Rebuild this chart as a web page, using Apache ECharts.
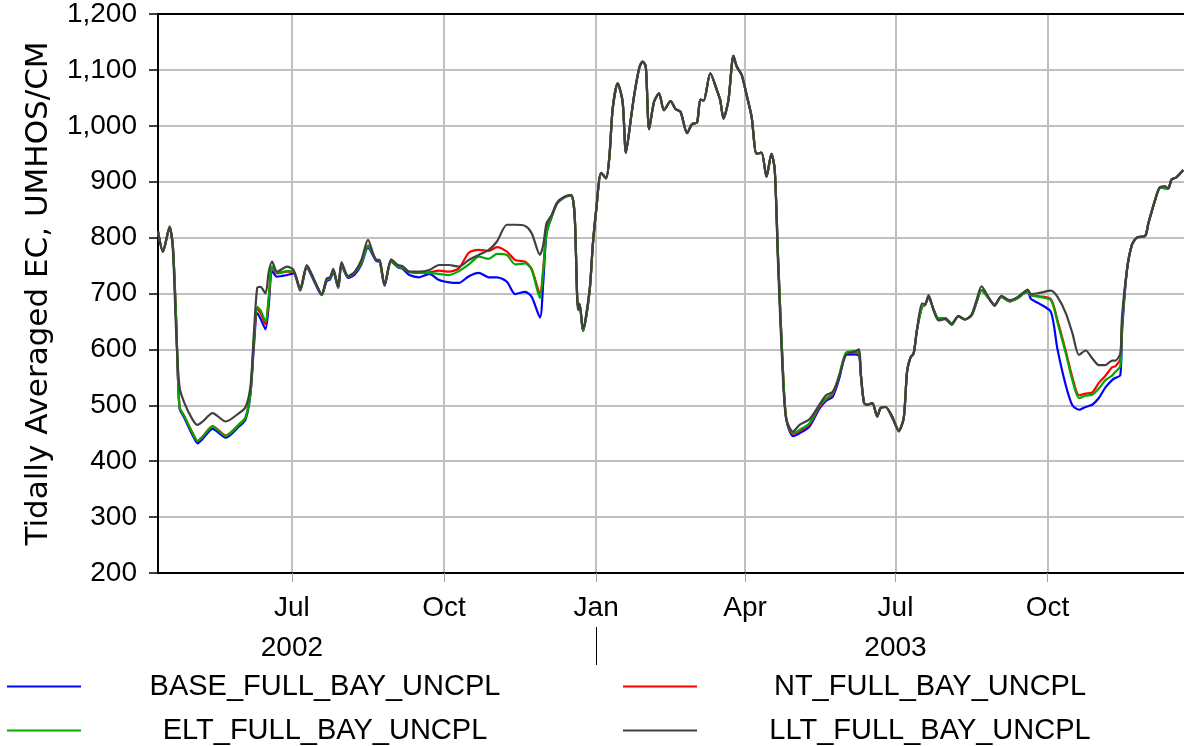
<!DOCTYPE html>
<html>
<head>
<meta charset="utf-8">
<script src="https://cdn.jsdelivr.net/npm/echarts@6/dist/echarts.min.js"></script>
<style>
  html, body { margin: 0; padding: 0; background: #fff; }
  #chart { width: 1184px; height: 746px; }
</style>
</head>
<body>
<div id="chart"></div>
<script>
// Sample dates (tidally averaged EC, daily model output, sampled at turning points)
const dates = [
  '2002-04-11','2002-04-14','2002-04-18','2002-04-20','2002-04-22','2002-04-24','2002-04-27','2002-05-02','2002-05-05','2002-05-08',
  '2002-05-14','2002-05-22','2002-05-30','2002-06-03','2002-06-06','2002-06-08','2002-06-10','2002-06-12','2002-06-15','2002-06-17',
  '2002-06-19','2002-06-22','2002-06-28','2002-07-02','2002-07-06','2002-07-10','2002-07-15','2002-07-19','2002-07-22','2002-07-24',
  '2002-07-26','2002-07-29','2002-07-31','2002-08-04','2002-08-08','2002-08-12','2002-08-16','2002-08-21','2002-08-23','2002-08-26',
  '2002-08-30','2002-09-03','2002-09-06','2002-09-10','2002-09-16','2002-09-22','2002-09-28','2002-10-04','2002-10-10','2002-10-16',
  '2002-10-22','2002-10-28','2002-11-02','2002-11-08','2002-11-13','2002-11-19','2002-11-23','2002-11-28','2002-11-30','2002-12-02',
  '2002-12-05','2002-12-08','2002-12-10','2002-12-14','2002-12-17','2002-12-19','2002-12-21','2002-12-22','2002-12-24','2002-12-28',
  '2002-12-30','2003-01-01','2003-01-04','2003-01-07','2003-01-09','2003-01-11','2003-01-14','2003-01-17','2003-01-19','2003-01-22',
  '2003-01-24','2003-01-27','2003-01-29','2003-01-31','2003-02-02','2003-02-05','2003-02-08','2003-02-11','2003-02-15','2003-02-18',
  '2003-02-21','2003-02-25','2003-02-28','2003-03-03','2003-03-05','2003-03-07','2003-03-11','2003-03-15','2003-03-17','2003-03-19',
  '2003-03-22','2003-03-25','2003-03-27','2003-03-30','2003-04-02','2003-04-05','2003-04-08','2003-04-11','2003-04-14','2003-04-17',
  '2003-04-19','2003-04-21','2003-04-24','2003-04-26','2003-04-30','2003-05-04','2003-05-10','2003-05-16','2003-05-20','2003-05-24',
  '2003-05-28','2003-06-01','2003-06-06','2003-06-09','2003-06-10','2003-06-12','2003-06-14','2003-06-17','2003-06-20','2003-06-22',
  '2003-06-25','2003-06-29','2003-07-03','2003-07-06','2003-07-08','2003-07-10','2003-07-12','2003-07-14','2003-07-17','2003-07-19',
  '2003-07-21','2003-07-24','2003-07-27','2003-07-31','2003-08-04','2003-08-08','2003-08-12','2003-08-16','2003-08-19','2003-08-22',
  '2003-08-25','2003-08-30','2003-09-03','2003-09-08','2003-09-13','2003-09-16','2003-09-19','2003-09-21','2003-09-26','2003-10-03',
  '2003-10-07','2003-10-12','2003-10-16','2003-10-20','2003-10-24','2003-10-28','2003-11-01','2003-11-05','2003-11-09','2003-11-11',
  '2003-11-14','2003-11-15','2003-11-18','2003-11-21','2003-11-24','2003-11-29','2003-12-01','2003-12-05','2003-12-08','2003-12-11',
  '2003-12-13','2003-12-15','2003-12-18','2003-12-22'
];

const baseFullBay = [
  811,775,818,785,650,495,477,446,432,440,
  458,442,462,475,522,605,665,655,636,680,
  740,730,733,736,705,746,718,697,722,725,
  738,710,750,728,734,752,782,758,757,714,
  757,747,744,733,729,735,724,720,719,731,
  737,729,729,721,699,703,694,657,720,808,
  836,859,866,874,875,840,675,680,633,704,
  788,849,916,906,945,1031,1076,1043,952,1013,
  1055,1103,1115,1106,994,1043,1058,1028,1044,1030,
  1025,987,1003,1006,1047,1045,1094,1064,1046,1013,
  1046,1125,1106,1091,1055,1016,950,952,909,950,
  921,765,555,474,445,450,462,494,508,515,
  548,590,591,588,557,504,501,504,480,495,
  497,478,455,477,560,585,593,635,676,680,
  694,672,655,656,646,659,654,661,684,706,
  697,680,694,686,692,699,703,690,682,667,
  600,536,500,492,497,501,513,532,545,549,
  554,629,742,787,800,803,826,867,890,888,
  888,904,908,921
];

const ntFullBay = [
  811,775,818,785,650,497,480,450,436,444,
  463,446,466,479,526,615,672,665,645,690,
  746,736,739,739,707,749,720,698,725,727,
  741,711,753,730,737,755,786,760,759,715,
  759,749,746,739,737,738,741,739,745,773,
  778,776,783,775,760,757,744,700,745,817,
  838,860,867,874,875,840,675,680,633,704,
  788,849,916,906,945,1031,1076,1043,952,1013,
  1055,1103,1115,1106,994,1043,1058,1028,1044,1030,
  1025,987,1003,1006,1047,1045,1094,1064,1046,1013,
  1046,1125,1106,1091,1055,1016,950,952,909,950,
  921,765,560,476,449,454,466,497,511,519,
  553,592,595,592,557,504,501,504,480,495,
  497,480,455,477,560,585,593,635,676,680,
  694,672,655,656,646,659,654,661,684,706,
  697,680,694,686,692,699,703,697,695,690,
  652,597,550,518,521,523,540,553,568,570,
  583,645,742,787,800,803,826,867,890,890,
  888,904,908,921
];

const eltFullBay = [
  811,775,818,785,650,497,480,450,436,444,
  462,445,465,478,525,617,676,670,650,694,
  748,737,740,739,707,749,720,698,725,727,
  741,711,753,730,737,755,785,760,759,715,
  759,748,746,738,737,737,735,733,740,752,
  766,762,771,769,752,754,742,692,740,808,
  837,860,867,874,875,840,675,680,633,704,
  788,849,916,906,945,1031,1076,1043,952,1013,
  1055,1103,1115,1106,994,1043,1058,1028,1044,1030,
  1025,987,1003,1006,1047,1045,1094,1064,1046,1013,
  1046,1125,1106,1091,1055,1016,950,952,909,950,
  921,765,560,476,450,456,468,499,512,521,
  555,594,597,594,557,504,501,504,480,495,
  497,480,455,477,560,585,593,635,676,680,
  694,672,655,656,646,659,654,661,684,706,
  697,680,694,686,692,699,703,697,694,688,
  648,593,545,513,517,519,530,545,553,560,
  570,640,742,787,800,803,826,867,890,888,
  888,904,908,921
];

const lltFullBay = [
  811,775,820,778,629,533,504,474,465,471,
  486,471,486,497,536,629,710,712,700,739,
  757,739,748,742,709,751,721,699,727,729,
  744,712,756,731,739,760,796,760,760,715,
  761,751,749,739,739,742,751,751,748,760,
  769,778,793,823,823,821,808,769,787,826,
  840,861,868,875,876,837,670,682,637,706,
  790,849,916,906,945,1031,1076,1043,952,1013,
  1055,1103,1115,1106,994,1043,1058,1028,1044,1030,
  1025,987,1003,1006,1047,1045,1094,1064,1046,1013,
  1046,1125,1106,1091,1055,1016,950,952,909,950,
  921,750,545,474,453,465,475,501,518,524,
  551,590,596,600,557,504,501,504,480,495,
  497,480,453,477,560,585,593,635,682,681,
  697,670,652,654,644,660,653,662,688,713,
  700,678,696,688,694,701,707,699,701,705,
  694,665,629,590,598,584,572,572,580,580,
  593,658,742,787,800,803,826,867,890,892,
  888,904,908,921
];

const seriesNames = ['BASE_FULL_BAY_UNCPL', 'NT_FULL_BAY_UNCPL', 'ELT_FULL_BAY_UNCPL', 'LLT_FULL_BAY_UNCPL'];
const seriesColors = ['#0000ff', '#ff0000', '#00aa00', '#404040'];
const quarterTicks = ['2002-07-01', '2002-10-01', '2003-01-01', '2003-04-01', '2003-07-01', '2003-10-01'];
const yearLabelDates = ['2002-07-01', '2003-07-01'];
const yearBreakDates = ['2003-01-01'];
const monthNames = ['Jan','Feb','Mar','Apr','May','Jun','Jul','Aug','Sep','Oct','Nov','Dec'];
const yTicks = { min: 200, max: 1200, step: 100 };

// Dates become UTC timestamps on a plain numeric axis
function toTime(s) {
  const p = s.split('-').map(Number);
  return Date.UTC(p[0], p[1] - 1, p[2]);
}

const times = dates.map(toTime);
const xMin = toTime('2002-04-11');
const xMax = toTime('2003-12-22') + 12 * 3600 * 1000;

const FONT = '"Liberation Sans", Arial, sans-serif';

function pairs(values) {
  return times.map((t, i) => [t, values[i]]);
}

const allValues = [baseFullBay, ntFullBay, eltFullBay, lltFullBay];

function legendFor(name, left, top, textWidth) {
  return {
    data: [name],
    left: left,
    top: top,
    padding: 0,
    icon: 'rect',
    itemWidth: 74,
    itemHeight: 2,
    selectedMode: false,
    formatter: n => '{t|' + n + '}',
    textStyle: {
      rich: {
        t: { width: textWidth, align: 'center', fontSize: 29, lineHeight: 32, fontFamily: FONT, color: '#000' }
      }
    }
  };
}

function dateAxis(extra) {
  return Object.assign({
    type: 'value',
    min: xMin,
    max: xMax,
    scale: true
  }, extra);
}

const chart = echarts.init(document.getElementById('chart'), null, { renderer: 'canvas' });

chart.setOption({
  animation: false,
  backgroundColor: '#ffffff',
  grid: { left: 158, right: 0, top: 14, bottom: 173, containLabel: false },
  legend: [
    legendFor(seriesNames[0], 7, 672, 478),
    legendFor(seriesNames[1], 623, 672, 456),
    legendFor(seriesNames[2], 7, 716, 478),
    legendFor(seriesNames[3], 623, 716, 456)
  ],
  xAxis: [
    dateAxis({
      position: 'bottom',
      axisLine: { show: true, onZero: false, lineStyle: { color: '#000', width: 2 } },
      axisTick: { show: true, length: 9, customValues: quarterTicks.map(toTime), lineStyle: { color: '#a0a0a0', width: 1 } },
      axisLabel: {
        customValues: quarterTicks.map(toTime),
        formatter: v => monthNames[new Date(v).getUTCMonth()],
        fontSize: 28, fontFamily: FONT, color: '#000', margin: 21
      },
      splitLine: { show: true, lineStyle: { color: '#c0c0c0', width: 2 } }
    }),
    dateAxis({
      position: 'bottom',
      offset: 54,
      axisLine: { show: false, onZero: false },
      axisTick: { show: true, length: 38, customValues: yearBreakDates.map(toTime), lineStyle: { color: '#000', width: 1 } },
      axisLabel: {
        customValues: yearLabelDates.map(toTime),
        formatter: v => String(new Date(v).getUTCFullYear()),
        fontSize: 28, fontFamily: FONT, color: '#000', margin: 7
      },
      splitLine: { show: false }
    }),
    dateAxis({
      position: 'top',
      axisLine: { show: true, onZero: false, lineStyle: { color: '#000', width: 2 } },
      axisTick: { show: false },
      axisLabel: { show: false },
      splitLine: { show: false }
    })
  ],
  yAxis: {
    type: 'value',
    min: yTicks.min,
    max: yTicks.max,
    interval: yTicks.step,
    name: 'Tidally Averaged EC, UMHOS/CM',
    nameLocation: 'middle',
    nameRotate: 90,
    nameGap: 104,
    nameTextStyle: { fontFamily: '"DejaVu Sans", sans-serif', fontSize: 31, color: '#000' },
    axisLine: { show: true, lineStyle: { color: '#000', width: 2 } },
    axisTick: { show: true, length: 9, lineStyle: { color: '#000', width: 1.5 } },
    axisLabel: {
      formatter: v => v.toLocaleString('en-US'),
      fontSize: 28, fontFamily: FONT, color: '#000', margin: 21
    },
    splitLine: { show: true, lineStyle: { color: '#c0c0c0', width: 2 } }
  },
  series: seriesNames.map((name, i) => ({
    name: name,
    type: 'line',
    xAxisIndex: 0,
    data: pairs(allValues[i]),
    showSymbol: false,
    symbol: 'none',
    smooth: 0.25,
    color: seriesColors[i],
    lineStyle: { color: seriesColors[i], width: 2.2 },
    z: 3 + i
  }))
});
</script>
</body>
</html>
